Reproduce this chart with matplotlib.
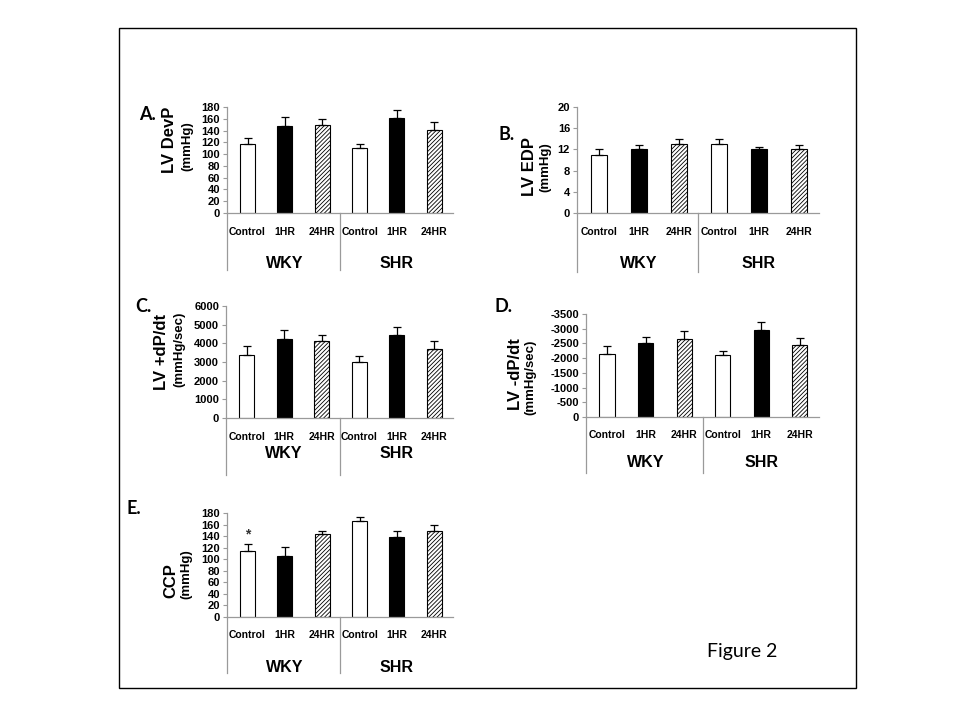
import matplotlib
matplotlib.use("Agg")
import matplotlib.pyplot as plt
from matplotlib.patches import Rectangle

plt.rcParams['font.family'] = ['Liberation Sans', 'DejaVu Sans']
plt.rcParams['axes.unicode_minus'] = False
plt.rcParams['hatch.linewidth'] = 0.6

# data
conditions = ["Control", "1HR", "24HR", "Control", "1HR", "24HR"]
groups = ["WKY", "SHR"]

devp = [117, 147, 150, 111, 161, 141]
devp_err = [10, 16, 9, 7, 14, 13]

edp = [11, 12, 13, 13, 12, 12]
edp_err = [1.0, 0.9, 1.0, 1.0, 0.4, 0.9]

dpdt_pos = [3400, 4250, 4100, 3000, 4450, 3700]
dpdt_pos_err = [450, 450, 350, 300, 450, 400]

dpdt_neg = [-2150, -2500, -2650, -2100, -2950, -2450]
dpdt_neg_err = [270, 230, 270, 150, 270, 250]

ccp = [115, 105, 144, 166, 138, 149]
ccp_err = [11, 16, 4, 7, 11, 10]

W, H = 960, 720
fig = plt.figure(figsize=(9.6, 7.2), dpi=100)

# outer frame
fig.patches.append(Rectangle((119 / W, 1 - 688 / H), (856 - 119) / W, (688 - 28) / H,
                             transform=fig.transFigure, fill=False, lw=1.0, ec='black'))

fills = ['white', 'black', 'white', 'white', 'black', 'white']
hatches = ['', '', '////////', '', '', '////////']


def panel(box, vals, errs, ylim, ticks, letter, letter_xy, lab1, lab1_xy, lab2, lab2_xy,
          cat_y, grp_y, sep_y, asterisk=False):
    left, right, top, bottom = box
    hpx = bottom - top
    ax = fig.add_axes([left / W, 1 - bottom / H, (right - left) / W, hpx / H])
    x = list(range(len(vals)))
    ax.bar(x, vals, width=0.4, color=fills, edgecolor='black', linewidth=0.8,
           hatch=hatches, zorder=2)
    neg = vals[0] < 0
    for i in x:
        if neg:
            yerr = [[errs[i]], [0]]
        else:
            yerr = [[0], [errs[i]]]
        ax.errorbar(i, vals[i], yerr=yerr, fmt='none', ecolor='black', elinewidth=0.9,
                    capsize=3, capthick=0.9, zorder=3)
    ax.set_xlim(-0.55, 5.5)
    ax.set_ylim(*ylim)
    ax.set_yticks(ticks)
    ax.set_yticklabels([str(t) for t in ticks], fontsize=8, fontweight='bold')
    ax.set_xticks([])
    for s in ['top', 'right']:
        ax.spines[s].set_visible(False)
    for s in ['left', 'bottom']:
        ax.spines[s].set_color('#9a9a9a')
        ax.spines[s].set_linewidth(0.9)
    ax.tick_params(axis='y', colors='#9a9a9a', labelcolor='black', length=3, width=0.8, pad=2)
    ax.patch.set_visible(False)

    def fy(ypx):
        return (bottom - ypx) / hpx

    tr = ax.get_xaxis_transform()
    for i, c in enumerate(conditions):
        ax.text(i, fy(cat_y), c, transform=tr, ha='center', va='center',
                fontsize=7.5, fontweight='bold')
    for g, gx in zip(groups, [1, 4]):
        ax.text(gx, fy(grp_y), g, transform=tr, ha='center', va='center',
                fontsize=11.5, fontweight='bold')
    for sx in [-0.55, 2.475]:
        ax.plot([sx, sx], [0, fy(sep_y)], transform=tr, color='#9a9a9a', lw=0.9,
                clip_on=False)
    if asterisk:
        ax.text(0, vals[0] + errs[0] + 4, '*', ha='center', va='bottom', fontsize=10,
                fontweight='bold', color='#333333')

    fig.text(letter_xy[0] / W, 1 - letter_xy[1] / H, letter, fontsize=13,
             fontweight='bold', family=['Lato', 'DejaVu Sans'], ha='center', va='center')
    fig.text(lab1_xy[0] / W, 1 - lab1_xy[1] / H, lab1, rotation=90, fontsize=12,
             fontweight='bold', ha='center', va='center')
    fig.text(lab2_xy[0] / W, 1 - lab2_xy[1] / H, lab2, rotation=90, fontsize=9.5,
             fontweight='bold', ha='center', va='center')
    return ax


panel((227, 453, 107, 213), devp, devp_err, (0, 180), list(range(0, 181, 20)),
      "A.", (147, 114), "LV DevP", (170, 140), "(mmHg)", (187, 146), 232, 263, 270)
panel((577, 819, 107, 213), edp, edp_err, (0, 20), list(range(0, 21, 4)),
      "B.", (507, 134), "LV EDP", (530, 167), "(mmHg)", (545, 167), 232, 263, 272)
panel((226, 453, 306, 418), dpdt_pos, dpdt_pos_err, (0, 6000), list(range(0, 6001, 1000)),
      "C.", (143, 306), "LV +dP/dt", (162, 352), "(mmHg/sec)", (179, 349), 437, 453, 475)
panel((586, 819, 314, 417), dpdt_neg, dpdt_neg_err, (0, -3500), list(range(0, -3501, -500)),
      "D.", (503, 306), "LV -dP/dt", (515, 374), "(mmHg/sec)", (530, 377), 435, 462, 473)
panel((227, 453, 513, 617), ccp, ccp_err, (0, 180), list(range(0, 181, 20)),
      "E.", (134, 509), "CCP", (171, 581), "(mmHg)", (186, 574), 635, 668, 673,
      asterisk=True)

fig.text(742 / W, 1 - 652 / H, "Figure 2", fontsize=14, family=['Lato', 'DejaVu Sans'],
         ha='center', va='center')

fig.savefig("out.png", dpi=100)
